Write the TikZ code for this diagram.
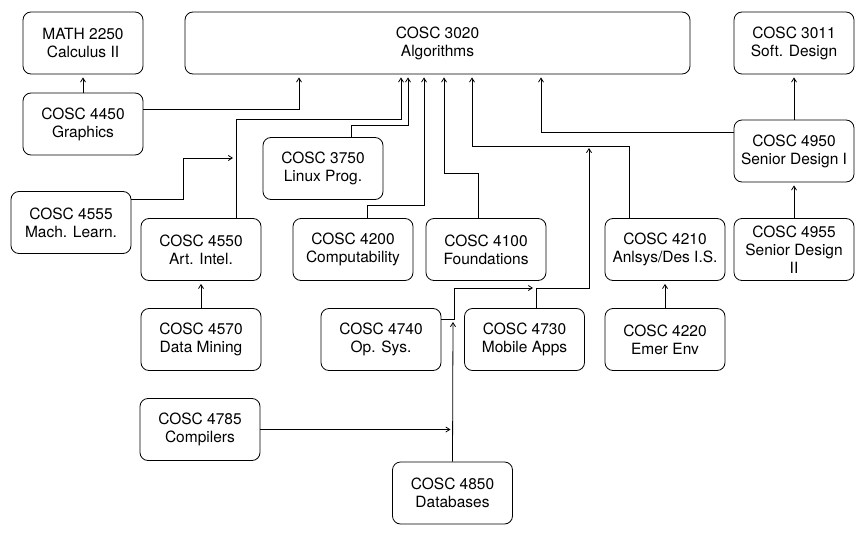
\documentclass[tikz,border=0pt]{standalone}
\usepackage{fontspec}
\setmainfont{TeX Gyre Heros}
\usetikzlibrary{arrows.meta}
\begin{document}
\begin{tikzpicture}[x=1pt,y=-1pt,
  course/.style={draw, line width=0.8pt, rounded corners=8pt, minimum width=120pt, minimum height=62pt,
    align=center, inner sep=0pt, font=\fontsize{15.5}{18}\selectfont},
  arr/.style={line width=0.8pt, -{Straight Barb[length=4pt,width=5pt]}},
  arrn/.style={arr, shorten >=3pt}]
\useasboundingbox (0,0) rectangle (865,535);
% nodes
\node[course] (math) at (83,43) {MATH 2250\\Calculus II};
\node[course, minimum width=505pt] (alg) at (437.5,43) {COSC 3020\\Algorithms};
\node[course] (soft) at (794,43) {COSC 3011\\Soft. Design};
\node[course] (gfx) at (83,124) {COSC 4450\\Graphics};
\node[course] (linux) at (323,168.5) {COSC 3750\\Linux Prog.};
\node[course] (ml) at (71,222.5) {COSC 4555\\Mach. Learn.};
\node[course] (ai) at (201,249.5) {COSC 4550\\Art. Intel.};
\node[course] (comp) at (353,249.5) {COSC 4200\\Computability};
\node[course] (found) at (486,249.5) {COSC 4100\\Foundations};
\node[course] (anl) at (665,249.5) {COSC 4210\\Anlsys/Des I.S.};
\node[course] (sd1) at (794,151) {COSC 4950\\Senior Design I};
\node[course] (sd2) at (794,249.5) {COSC 4955\\Senior Design\\II};
\node[course] (dm) at (201,339.5) {COSC 4570\\Data Mining};
\node[course] (os) at (381,339.5) {COSC 4740\\Op. Sys.};
\node[course] (mob) at (524.5,339.5) {COSC 4730\\Mobile Apps};
\node[course] (env) at (665,339.5) {COSC 4220\\Emer Env};
\node[course] (cmp) at (200,429.5) {COSC 4785\\Compilers};
\node[course] (db) at (452.5,493) {COSC 4850\\Databases};
% junction points on other connectors
\coordinate (j1) at (233,158);
\coordinate (j2) at (589,148);
\coordinate (j3) at (533,288);
\coordinate (j4) at (453,322);
\coordinate (j5) at (450.5,429.5);
% connectors
\draw[arrn] (gfx.north) -- (math.south);
\draw[arrn] (gfx.east |- 0,109) -| (alg.south -| 299,0);
\draw[arrn] (ai.north -| 236,0) -- (236,119) -| (alg.south -| 401,0);
\draw[arrn] (linux.north -| 351,0) -- (351,125) -| (alg.south -| 408,0);
\draw[arr] (ml.east |- 0,199) -- (183,199) -- (183,158) -- (j1);
\draw[arrn] (comp.north -| 367,0) -- (367,205) -| (alg.south -| 424,0);
\draw[arrn] (found.north -| 478,0) -- (478,173) -| (alg.south -| 444,0);
\draw[arrn] (anl.north -| 629,0) -- (629,146) -| (alg.south -| 472,0);
\draw[arrn] (sd1.west |- 0,132) -| (alg.south -| 541,0);
\draw[arrn] (sd1.north) -- (soft.south);
\draw[arrn] (sd2.north) -- (sd1.south);
\draw[arrn] (dm.north) -- (ai.south);
\draw[arrn] (env.north) -- (anl.south);
\draw[arr] (mob.north -| 536,0) -- (536,288) -| (j2);
\draw[arr] (os.east |- 0,319) -- (454,319) |- (j3);
\draw[arr] (db.north) -- (j4);
\draw[arr] (cmp.east) -- (j5);
\end{tikzpicture}
\end{document}
